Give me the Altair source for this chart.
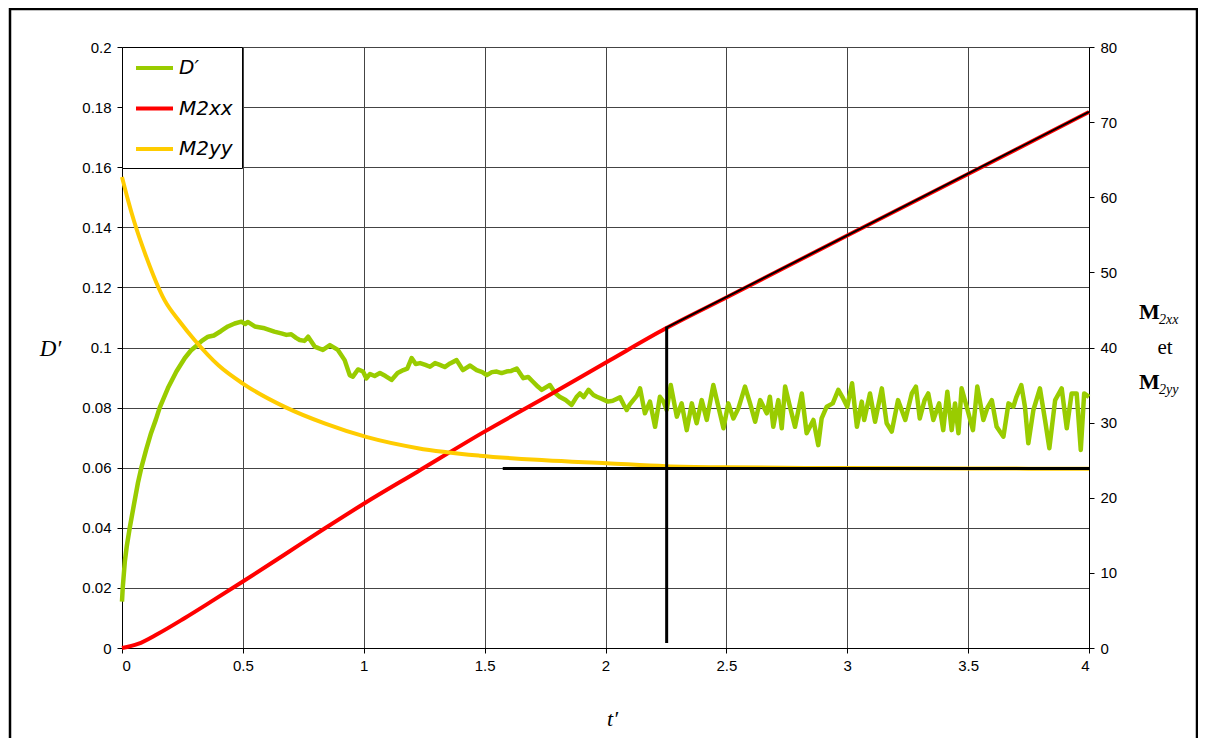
import altair as alt
import pandas as pd

# ---------------- data ----------------
green_t = [0, 0.003, 0.012, 0.02, 0.032, 0.05, 0.066, 0.08, 0.1, 0.12, 0.14, 0.156, 0.19, 0.225, 0.26, 0.285,
           0.307, 0.33, 0.356, 0.38, 0.41, 0.438, 0.466, 0.494, 0.51, 0.52, 0.549, 0.59, 0.63, 0.659, 0.68,
           0.70, 0.72, 0.735, 0.755, 0.77, 0.797, 0.815, 0.831, 0.86, 0.893, 0.921, 0.942, 0.955, 0.976,
           0.997, 1.011, 1.026, 1.045, 1.067, 1.09, 1.115, 1.14, 1.164, 1.18, 1.198, 1.215, 1.233, 1.255,
           1.274, 1.295, 1.315, 1.335, 1.357, 1.384, 1.41, 1.44, 1.467, 1.49, 1.509, 1.53, 1.55, 1.57, 1.59,
           1.61, 1.633, 1.66, 1.68, 1.70, 1.72, 1.736, 1.755, 1.77, 1.79, 1.81, 1.835, 1.86, 1.88, 1.894,
           1.91, 1.93, 1.95, 1.964, 1.985, 2.01, 2.03, 2.06, 2.075, 2.088, 2.1, 2.115, 2.13, 2.143, 2.163,
           2.184, 2.205, 2.225, 2.24, 2.253, 2.27, 2.295, 2.315, 2.336, 2.357, 2.377, 2.398, 2.419, 2.446,
           2.467, 2.488, 2.508, 2.529, 2.55, 2.577, 2.598, 2.619, 2.64, 2.667, 2.68, 2.694, 2.715, 2.729,
           2.743, 2.763, 2.784, 2.812, 2.832, 2.86, 2.88, 2.894, 2.915, 2.94, 2.963, 2.98, 3.0, 3.02, 3.04,
           3.06, 3.07, 3.094, 3.115, 3.143, 3.163, 3.184, 3.21, 3.24, 3.267, 3.284, 3.30, 3.32, 3.335, 3.356,
           3.38, 3.397, 3.414, 3.432, 3.446, 3.46, 3.473, 3.494, 3.52, 3.538, 3.563, 3.58, 3.598, 3.618,
           3.646, 3.667, 3.687, 3.70, 3.72, 3.735, 3.749, 3.77, 3.797, 3.818, 3.836, 3.86, 3.887, 3.908,
           3.928, 3.949, 3.966, 3.98, 4.0]
green_v = [0.0154, 0.020, 0.029, 0.034, 0.040, 0.048, 0.055, 0.060, 0.066, 0.0715, 0.076, 0.080, 0.0865, 0.092,
           0.0965, 0.099, 0.1005, 0.1022, 0.1036, 0.104, 0.1055, 0.107, 0.108, 0.1086, 0.1078, 0.1085, 0.107,
           0.1064, 0.1053, 0.1047, 0.1042, 0.1044, 0.1032, 0.1025, 0.1022, 0.1036, 0.1003, 0.0997, 0.0992,
           0.1008, 0.0992, 0.0958, 0.0908, 0.0903, 0.0927, 0.092, 0.0897, 0.0912, 0.0905, 0.0915, 0.0905,
           0.0892, 0.0915, 0.0925, 0.093, 0.0965, 0.0945, 0.0948, 0.0942, 0.0936, 0.0948, 0.0942, 0.0935,
           0.0947, 0.0958, 0.0925, 0.094, 0.0925, 0.0918, 0.0908, 0.0918, 0.092, 0.0915, 0.092, 0.0922,
           0.093, 0.0898, 0.0902, 0.0886, 0.087, 0.0859, 0.0868, 0.0875, 0.085, 0.0836, 0.0825, 0.0809,
           0.0835, 0.0847, 0.0835, 0.0859, 0.0842, 0.0836, 0.0829, 0.082, 0.0823, 0.0834, 0.081, 0.0792,
           0.081, 0.0825, 0.084, 0.0864, 0.0781, 0.082, 0.0736, 0.0836, 0.082, 0.0792, 0.0875, 0.077, 0.0814,
           0.0725, 0.0814, 0.0748, 0.0825, 0.0759, 0.0875, 0.0803, 0.0731, 0.0814, 0.0764, 0.0798, 0.087,
           0.0814, 0.0753, 0.0825, 0.0781, 0.0836, 0.0736, 0.0825, 0.0731, 0.087, 0.0803, 0.0736, 0.0847,
           0.0715, 0.0759, 0.0675, 0.0764, 0.0803, 0.0814, 0.0859, 0.0835, 0.0803, 0.0881, 0.0736, 0.082,
           0.0759, 0.0847, 0.0753, 0.0864, 0.0748, 0.072, 0.0825, 0.0759, 0.0847, 0.087, 0.0764, 0.0825,
           0.0847, 0.0759, 0.0814, 0.0725, 0.0853, 0.0725, 0.0814, 0.0715, 0.0864, 0.0803, 0.0725, 0.087,
           0.0759, 0.080, 0.0825, 0.0736, 0.0703, 0.0814, 0.0803, 0.0836, 0.0875, 0.0803, 0.0681, 0.0792,
           0.0864, 0.0759, 0.0665, 0.0825, 0.0864, 0.0731, 0.0847, 0.0847, 0.0659, 0.0847, 0.0836]

red_t = [0, 0.066, 0.149, 0.26, 0.37, 0.5, 0.673, 0.838, 1.0, 1.224, 1.494, 1.77, 2.018, 2.25, 2.5, 3.0, 3.5, 4.0]
red_v = [0, 0.55, 1.9, 4.0, 6.2, 8.85, 12.45, 15.9, 19.2, 23.5, 28.7, 33.7, 38.3, 42.55, 46.65, 54.9, 63.1, 71.35]

yellow_t = [0, 0.025, 0.05, 0.1, 0.176, 0.24, 0.3, 0.4, 0.5, 0.673, 0.838, 1.01, 1.224, 1.48, 1.75, 2.005,
            2.25, 2.5, 3.0, 3.5, 4.0]
yellow_v = [62.7, 59.6, 56.8, 52.1, 46.3, 43.4, 41.0, 37.6, 35.2, 32.1, 29.9, 28.1, 26.6, 25.6, 25.0, 24.6,
            24.2, 24.05, 23.95, 23.9, 23.85]

# black construction lines: fit on M2xx, vertical marker, asymptote of M2yy
rule_t0 = [2.25, 2.253, 1.575]
rule_t1 = [4.0, 2.253, 4.0]
rule_v0 = [42.6, 0.67, 23.9]
rule_v1 = [71.35, 42.75, 23.9]
rule_w = [2, 3, 3]

series_names = ["D′", "M2xx", "M2yy"]
series_colors = ["#99CC00", "#FF0000", "#FFCC00"]

left_ticks = [0, 0.02, 0.04, 0.06, 0.08, 0.1, 0.12, 0.14, 0.16, 0.18, 0.2]
right_ticks = [0, 10, 20, 30, 40, 50, 60, 70, 80]
x_ticks = [0, 0.5, 1, 1.5, 2, 2.5, 3, 3.5, 4]

# ---------------- tables ----------------
df_green = pd.DataFrame({"t": green_t, "v": green_v, "s": series_names[0]})
df_m = pd.concat([
    pd.DataFrame({"t": red_t, "v": red_v, "s": series_names[1]}),
    pd.DataFrame({"t": yellow_t, "v": yellow_v, "s": series_names[2]}),
])
df_rules = pd.DataFrame({"t0": rule_t0, "t1": rule_t1, "v0": rule_v0, "v1": rule_v1, "w": rule_w})
one = pd.DataFrame({"a": [0]})

W, H = 967, 601
GRID = "#444444"

color = alt.Color("s:N", scale=alt.Scale(domain=series_names, range=series_colors),
                  legend=alt.Legend(orient="none", legendX=0, legendY=0, title=None,
                                    strokeColor="black", fillColor="white", padding=9,
                                    symbolType="M-1.85,0H1.85", symbolSize=400, symbolStrokeWidth=4,
                                    symbolOffset=11.5,
                                    labelFontSize=20, labelFontStyle="italic", labelFont="DejaVu Sans",
                                    labelColor="black",
                                    rowPadding=18.5, labelOffset=12.5, cornerRadius=0))

x_axis = alt.Axis(values=x_ticks, format="~g", grid=True, gridColor=GRID, gridWidth=1,
                  tickColor="black", tickSize=5, domainColor="black", labelFontSize=15,
                  labelFont="Liberation Sans", labelColor="black", labelPadding=5,
                  title="t′", titleFont="Liberation Serif", titleFontStyle="italic",
                  titleFontWeight="normal", titleFontSize=22, titleColor="black",
                  titleX=490, titleY=70, titleBaseline="middle", titleAnchor="start", titleAlign="center")
x_scale = alt.Scale(domain=[0, 4], nice=False, zero=False)

left_axis = alt.Axis(orient="left", values=left_ticks, format="~g", grid=True, gridColor=GRID,
                     gridWidth=1, tickColor="black", tickSize=5, domainColor="black",
                     labelFontSize=15, labelFont="Liberation Sans", labelColor="black", labelPadding=6,
                     title="D′", titleAngle=0, titleFont="Liberation Serif", titleFontStyle="italic",
                     titleFontWeight="normal", titleFontSize=23, titleColor="black",
                     titleX=-72, titleY=301, titleAlign="center", titleBaseline="middle")
right_axis = alt.Axis(orient="right", values=right_ticks, format="d", grid=False,
                      tickColor="black", tickSize=5, domainColor="black",
                      labelFontSize=15, labelFont="Liberation Sans", labelColor="black", labelPadding=6,
                      title=None)

green = alt.Chart(df_green).mark_line(strokeWidth=4.5, strokeJoin="round").encode(
    x=alt.X("t:Q", scale=x_scale, axis=x_axis),
    y=alt.Y("v:Q", scale=alt.Scale(domain=[0, 0.2], nice=False), axis=left_axis),
    color=color,
)

m_lines = alt.Chart(df_m).mark_line(strokeWidth=4, interpolate="monotone").encode(
    x=alt.X("t:Q", scale=x_scale, axis=x_axis),
    y=alt.Y("v:Q", scale=alt.Scale(domain=[0, 80], nice=False), axis=right_axis),
    color=color,
    detail="s:N",
)

rules = alt.Chart(df_rules).mark_rule(color="black").encode(
    x=alt.X("t0:Q", scale=x_scale, axis=x_axis),
    x2="t1:Q",
    y=alt.Y("v0:Q", scale=alt.Scale(domain=[0, 80], nice=False), axis=right_axis),
    y2="v1:Q",
    strokeWidth=alt.StrokeWidth("w:Q", scale=None),
)

right_group = alt.layer(m_lines, rules)

# frame around the whole figure
frame = alt.Chart(one).mark_rect(filled=False, stroke="black", strokeWidth=2.5).encode(
    x=alt.value(-112), x2=alt.value(1075), y=alt.value(-38), y2=alt.value(720))

# right axis title: M_2xx / et / M_2yy
def txt(s, x, y, size, weight="normal", style="normal", align="left"):
    return alt.Chart(one).mark_text(text=s, font="Liberation Serif", fontSize=size, fontWeight=weight,
                                    fontStyle=style, align=align, baseline="alphabetic",
                                    color="black").encode(x=alt.value(x), y=alt.value(y))

right_title = alt.layer(
    txt("M", 1017, 272, 22, weight="bold"),
    txt("2xx", 1037, 277, 14, style="italic"),
    txt("et", 1043, 307, 21, align="center"),
    txt("M", 1017, 342, 22, weight="bold"),
    txt("2yy", 1037, 347, 14, style="italic"),
)

chart = alt.layer(frame, green, right_group, right_title).resolve_scale(
    y="independent"
).properties(
    width=W, height=H,
    autosize=alt.AutoSizeParams(type="none"),
    padding={"left": 114, "top": 39, "right": 109, "bottom": 90},
).configure_view(stroke="black", strokeWidth=1).configure(background="white")

chart.save("out.html", embed_options={"renderer": "svg", "actions": False})
